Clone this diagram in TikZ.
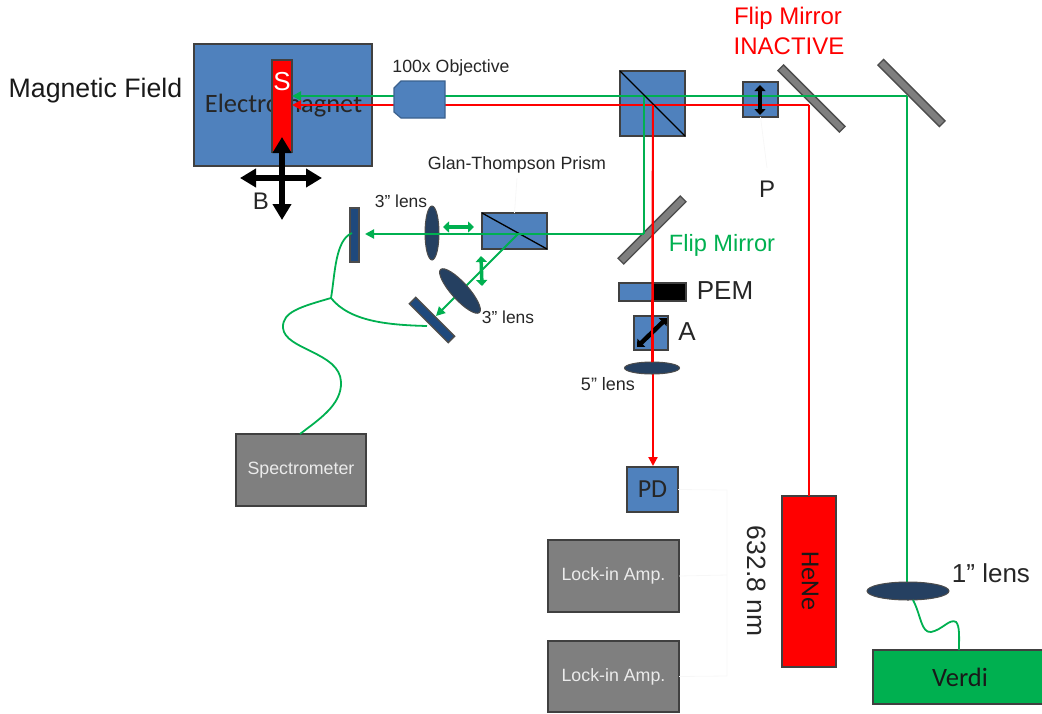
\documentclass[tikz,border=0pt]{standalone}
\usepackage{fontspec}
\setmainfont{Liberation Sans}
\newfontfamily\carfont{Carlito}
\usetikzlibrary{arrows.meta,shapes.geometric}
\definecolor{cblue}{HTML}{4F81BD}
\definecolor{cdark}{HTML}{1F497D}
\definecolor{clens}{HTML}{254061}
\definecolor{cgray}{HTML}{7F7F7F}
\definecolor{cgreen}{HTML}{00B050}
\definecolor{credb}{HTML}{FF0000}
\definecolor{ctext}{HTML}{262626}
\newcommand{\fs}[1]{\fontsize{#1}{#1}\selectfont}
\tikzset{
  box/.style={draw=#1,rectangle,inner sep=0pt,outer sep=0pt,line width=1.3pt},
  box/.default=black!75,
  blubox/.style={box,fill=cblue},
  graybox/.style={box,fill=cgray,text=white!92!black,font=\fs{17.8}},
  mirror/.style={box=black!70,fill=cgray,minimum height=8pt},
  darkbar/.style={box=black!70,fill=cdark},
  lens/.style={draw=black!70,ellipse,fill=clens,inner sep=0pt,outer sep=0pt,line width=1pt},
  lbl/.style={inner sep=0pt,outer sep=0pt,text=ctext},
  greenbeam/.style={draw=cgreen,line width=2pt},
  redbeam/.style={draw=credb,line width=2pt},
  fiber/.style={draw=cgreen,line width=1.8pt},
  faint/.style={draw=black!3,line width=0.8pt},
  gtip/.style={-{Triangle[width=9pt,length=9pt]}},
  rtip/.style={-{Triangle[width=9pt,length=9pt]}},
  bigarrow/.style={draw=black,line width=5.5pt,{Triangle[width=18pt,length=16pt]}-{Triangle[width=18pt,length=16pt]}},
  smallblk/.style={draw=black,line width=4.5pt,{Triangle[width=11pt,length=6pt]}-{Triangle[width=11pt,length=6pt]}},
  greendbl/.style={draw=cgreen,line width=3.5pt,{Triangle[width=11pt,length=6pt]}-{Triangle[width=11pt,length=6pt]}},
}
\begin{document}
\begin{tikzpicture}[x=1pt,y=-1pt]
\useasboundingbox (0,0) rectangle (1042,713);
% Electromagnet and sample
\node[blubox,minimum width=178pt,minimum height=122pt] (em) at (283,105) {};
\node[lbl,font=\carfont\fs{26.5},text=black!85] (emt) at (283.5,106) {Electromagnet};
\node[box,fill=credb,minimum width=20pt,minimum height=92pt] (sample) at (282,106) {};
\node[lbl,text=white,font=\fs{26}] (stext) at (282,82) {S};
% Optics boxes
\node[blubox,minimum width=65pt,minimum height=65pt] (bs) at (652.5,103.5) {};
\node[blubox,minimum width=35pt,minimum height=35pt] (pol) at (760.5,99.5) {};
\node[blubox,minimum width=65pt,minimum height=36pt] (gt) at (514.5,231) {};
\node[blubox,minimum width=34pt,minimum height=18pt] (pemb) at (636,292) {};
\node[box,fill=black,minimum width=33pt,minimum height=18pt] (pemk) at (669.5,292) {};
\node[blubox,minimum width=34pt,minimum height=34pt] (an) at (651,333) {};
\node[blubox,minimum width=51pt,minimum height=45pt,font=\carfont\fs{26},text=black!85,line width=1.6pt] (pd) at (652.5,489.5) {PD};
% Mirrors
\node[mirror,minimum width=87pt,rotate=-45] (m1) at (811.5,98.5) {};
\node[mirror,minimum width=87pt,rotate=-45] (m2) at (911.5,93) {};
\node[mirror,minimum width=88pt,rotate=45] (m3) at (652,230) {};
% Sources and instruments
\node[graybox,minimum width=130pt,minimum height=72pt] (spec) at (301,470) {Spectrometer};
\node[graybox,minimum width=131pt,minimum height=72pt] (li1) at (613.5,576) {\raisebox{1pt}{Lock-in Amp.}};
\node[graybox,minimum width=131pt,minimum height=71pt] (li2) at (613.5,676.5) {\raisebox{-1.5pt}{Lock-in Amp.}};
\node[box,fill=credb,minimum width=54pt,minimum height=171pt] (hene) at (809,581.5) {};
\node[lbl,rotate=-90,text=black!90,font=\carfont\fs{26}] (henet) at (810,581) {HeNe};
\node[box,fill=cgreen,minimum width=172pt,minimum height=54pt] (verdi) at (959,677) {};
\node[lbl,text=black!90,font=\carfont\fs{26.5}] (verdit) at (960,677) {Verdi};
% Beam waypoints
\coordinate (gSample) at (292,96);
\coordinate (rSample) at (292,105);
\coordinate (gM2) at (907,96);
\coordinate (rM1) at (809,105);
\coordinate (gBS) at (644,96);
\coordinate (rBS) at (653,105);
\coordinate (gM3) at (644,234);
\coordinate (gDet) at (365,234);
\coordinate (gSplit) at (518,234);
\coordinate (gDet2) at (436,316);
\coordinate (gLens) at (907,585);
\coordinate (hTop) at (809,496);
\coordinate (pdTop) at (653,466);
% Beams
\draw[greenbeam,gtip] (gM2) -- (gSample);
\draw[redbeam,rtip] (rM1) -- (rSample);
\draw[redbeam] (hTop) -- (rM1);
\draw[greenbeam] (gLens) -- (gM2);
\draw[greenbeam] (gBS) -- (gM3);
\draw[greenbeam,gtip] (gSplit) -- (gDet2);
\draw[redbeam,rtip] (rBS) -- (pdTop);
% BS diagonals
\draw[black,line width=1.3pt] (bs.north west) -- (bs.south east);
\draw[black,line width=1.3pt] (gt.north west) -- (gt.south east);
% Objective
\coordinate (oa) at (445,81);
\coordinate (ob) at (445,118);
\coordinate (oc) at (401,118);
\coordinate (od) at (394,112);
\coordinate (oe) at (394,88);
\coordinate (of) at (401,81);
\draw[draw=cblue!75!black,fill=cblue,line width=1.2pt] (oa) -- (ob) -- (oc) -- (od) -- (oe) -- (of) -- cycle;
% Lenses
\node[lens,minimum width=14pt,minimum height=54pt] (l3a) at (432,233) {};
\node[lens,minimum width=58pt,minimum height=17pt,rotate=-48] (l3b) at (460,291) {};
\node[lens,minimum width=55pt,minimum height=12pt] (l5) at (652,368) {};
\node[lens,minimum width=82pt,minimum height=18pt] (l1) at (908,591) {};
% Detectors
\node[darkbar,minimum width=9pt,minimum height=54pt] (d1) at (354.5,235) {};
\node[darkbar,minimum width=55pt,minimum height=9pt,rotate=-45] (d2) at (432,320) {};
% Beam that runs over the 3 inch lens
\draw[greenbeam,gtip] (gM3) -- (gDet);
% Polarisation arrows
\coordinate (pa) at (760,85);
\coordinate (pb) at (760,115);
\draw[smallblk] (pa) -- (pb);
\coordinate (aa) at (637,347);
\coordinate (ab) at (667,318);
\draw[smallblk] (aa) -- (ab);
\draw[redbeam] (rBS) -- (l5.north);
\coordinate (ga) at (443,227);
\coordinate (gb) at (474,227);
\draw[greendbl] (ga) -- (gb);
\coordinate (gc) at (481,256);
\coordinate (gd) at (482,286);
\draw[greendbl] (gc) -- (gd);
% Sample stage arrows
\coordinate (ca) at (240,178);
\coordinate (cb) at (322,178);
\coordinate (cc) at (282,137);
\coordinate (cd) at (282,220);
\draw[bigarrow] (ca) -- (cb);
\draw[bigarrow] (cc) -- (cd);
% Fibres
\coordinate (fj) at (331,298);
\coordinate (f1) at (352,233);
\coordinate (f2) at (427,326);
\coordinate (f3) at (300,434);
\draw[fiber] (f1) .. controls (335,240) and (335,275) .. (fj);
\draw[fiber] (fj) .. controls (350,322) and (390,325) .. (f2);
\draw[fiber] (fj) .. controls (300,307) and (282,312) .. (283,328) .. controls (285,350) and (340,352) .. (341,382) .. controls (342,405) and (318,420) .. (f3);
\coordinate (f4) at (913,600);
\coordinate (f5) at (959,650);
\draw[fiber] (f4) .. controls (921,615) and (921,633) .. (931,632) .. controls (942,630) and (950,618) .. (956,622) .. controls (960,626) and (959,638) .. (f5);
% Faint leaders
\coordinate (pl) at (767,168);
\draw[faint] (pol.south) -- (pl);
\coordinate (gl) at (517,178);
\draw[faint] (gl) -- (gt.north);
\coordinate (w1) at (727,490);
\coordinate (w2) at (727,676);
\coordinate (w3) at (727,575);
\draw[faint] (pd.east) -- (w1) -- (w2) -- (li2.east);
\draw[faint] (w3) -- (li1.east);
% Labels
\node[lbl,font=\fs{26.7},text=black!90] (mf) at (95.5,91) {Magnetic Field};
\node[lbl,font=\fs{17.7}] (obj) at (451,68) {100x Objective};
\node[lbl,font=\fs{17.8}] (glan) at (517,165) {Glan-Thompson Prism};
\node[lbl,font=\fs{17.4}] (t3a) at (401,201) {3” lens};
\node[lbl,font=\fs{17.4}] (t3b) at (508,317) {3” lens};
\node[lbl,font=\fs{18}] (t5) at (608,384) {5” lens};
\node[lbl,font=\fs{24},text=ctext] (tb) at (261,201) {B};
\node[lbl,font=\fs{24},text=credb] (fm1) at (788,18) {Flip Mirror};
\node[lbl,font=\fs{24},text=credb] (fm2) at (789,46) {INACTIVE};
\node[lbl,font=\fs{23.6},text=cgreen] (fm3) at (722,245) {Flip Mirror};
\node[lbl,font=\fs{24}] (tp) at (767,189) {P};
\node[lbl,font=\fs{26}] (tpem) at (725,291) {PEM};
\node[lbl,font=\fs{26}] (ta) at (687,332) {A};
\node[lbl,font=\fs{26.4},rotate=-90] (nm) at (757,581) {632.8 nm};
\node[lbl,font=\fs{26}] (t1) at (991,573) {1” lens};
\end{tikzpicture}
\end{document}
